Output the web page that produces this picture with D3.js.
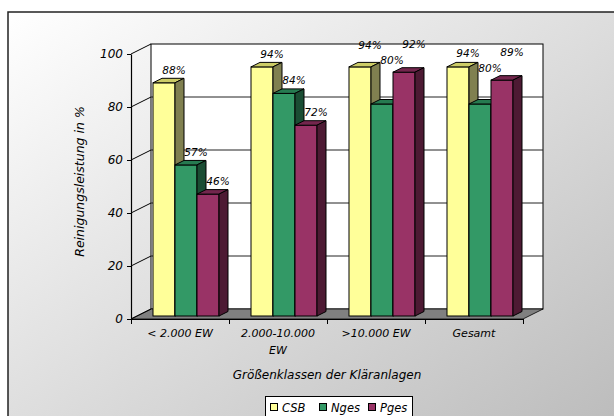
<!DOCTYPE html>
<html lang="de">
<head>
<meta charset="UTF-8">
<title>Reinigungsleistung</title>
<script src="https://d3js.org/d3.v7.min.js"></script>
<style>
    body { margin: 0; background: #fff; }
    svg text { font-family: "DejaVu Sans", Arial, sans-serif; font-style: italic; fill: #000; }
</style>
</head>
<body>
<svg id="chart"></svg>
<script>
    // Daten
    const categories = ["< 2.000 EW", "2.000-10.000 EW", ">10.000 EW", "Gesamt"];
    const seriesNames = ["CSB", "Nges", "Pges"];
    const csb = [88, 94, 94, 94];
    const nges = [57, 84, 80, 80];
    const pges = [46, 72, 92, 89];
    const yTicks = [0, 20, 40, 60, 80, 100];
    const yTitle = "Reinigungsleistung in %";
    const xTitle = "Größenklassen der Kläranlagen";

    const width = 614, height = 416;
    const pLeft = 131, pRight = 523, pTop = 54, pBottom = 319;
    const depthX = 20, depthY = -10;   // Tiefe der 3D-Wand

    const colors = {
        CSB:  { front: "#ffff99", top: "#cccc66", side: "#808050" },
        Nges: { front: "#339966", top: "#267a50", side: "#1a4d33" },
        Pges: { front: "#993366", top: "#73264d", side: "#4d1a33" }
    };

    const values = { CSB: csb, Nges: nges, Pges: pges };
    const rows = [];
    categories.forEach((c, i) => {
        seriesNames.forEach(s => rows.push({ cat: c, series: s, value: values[s][i] }));
    });

    const svg = d3.select("#chart").attr("width", width).attr("height", height);

    // Hintergrund mit Verlauf
    const defs = svg.append("defs");
    const grad = defs.append("linearGradient").attr("id", "bg")
        .attr("x1", 0).attr("y1", 0).attr("x2", 1).attr("y2", 1);
    grad.append("stop").attr("offset", "0%").attr("stop-color", "#ffffff");
    grad.append("stop").attr("offset", "100%").attr("stop-color", "#b8b8b8");

    svg.append("rect")
        .attr("x", 8).attr("y", 12).attr("width", 640).attr("height", 440)
        .attr("fill", "url(#bg)").attr("stroke", "#222").attr("stroke-width", 1.5);

    const x0 = d3.scaleBand().domain(categories).range([pLeft, pRight]);
    const x1 = d3.scaleBand().domain(seriesNames).range([16, 82]);
    const y = d3.scaleLinear().domain([0, 100]).range([pBottom, pTop]);
    const xb = d3.scaleLinear().domain([0, categories.length]).range([pLeft, pRight]);

    const off = t => [depthX * t, depthY * t];

    // Rückwand
    svg.append("rect")
        .attr("x", pLeft + depthX).attr("y", y(100) + depthY)
        .attr("width", pRight - pLeft).attr("height", y(0) - y(100))
        .attr("fill", "#fff").attr("stroke", "#000").attr("stroke-width", 1);

    // Gitterlinien auf der Rückwand
    svg.append("g").selectAll("line")
        .data(yTicks.filter(v => v > 0 && v < 100))
        .join("line")
        .attr("x1", pLeft + depthX).attr("x2", pRight + depthX)
        .attr("y1", d => y(d) + depthY).attr("y2", d => y(d) + depthY)
        .attr("stroke", "#222").attr("stroke-width", 1);

    // Boden
    svg.append("polygon")
        .attr("points", [
            [pLeft, y(0)], [pRight, y(0)],
            [pRight + depthX, y(0) + depthY], [pLeft + depthX, y(0) + depthY]
        ].map(p => p.join(",")).join(" "))
        .attr("fill", "#808080").attr("stroke", "#000").attr("stroke-width", 0.8);

    // schräge Linien der Seitenwand
    svg.append("g").selectAll("line")
        .data(yTicks)
        .join("line")
        .attr("x1", pLeft).attr("x2", pLeft + depthX)
        .attr("y1", d => y(d)).attr("y2", d => y(d) + depthY)
        .attr("stroke", "#000").attr("stroke-width", 1);

    // Achsen
    const yAxis = svg.append("g")
        .attr("transform", `translate(${pLeft},0)`)
        .call(d3.axisLeft(y).tickValues(yTicks).tickSize(4).tickPadding(4).tickSizeOuter(0));
    yAxis.selectAll("text").attr("font-size", 12);

    svg.append("g")
        .attr("transform", `translate(0,${pBottom})`)
        .call(d3.axisBottom(xb).tickValues(d3.range(categories.length + 1)).tickFormat("").tickSize(5).tickSizeOuter(0));
    svg.selectAll(".domain").attr("stroke", "#000").attr("stroke-width", 1.2);
    svg.selectAll(".tick line").attr("stroke", "#000");
    svg.selectAll("g[font-family]").attr("font-family", null);

    // Balken (3D)
    const f0 = off(0.3), f1 = off(0.75);
    const dx = f1[0] - f0[0], dy = f1[1] - f0[1];
    rows.forEach(d => {
        d.xl = x0(d.cat) + x1(d.series) + f0[0];
        d.xr = d.xl + x1.bandwidth();
        d.yt = y(d.value) + f0[1];
        d.yb = y(0) + f0[1];
    });

    const bars = svg.append("g").selectAll("g.bar")
        .data(rows)
        .join("g").attr("class", "bar");

    bars.each(function (d) {
        const g = d3.select(this);
        const c = colors[d.series];
        g.append("rect")
            .attr("x", d.xl).attr("y", d.yt).attr("width", d.xr - d.xl).attr("height", d.yb - d.yt)
            .attr("fill", c.front).attr("stroke", "#000").attr("stroke-width", 1);
        g.append("polygon")
            .attr("points", [[d.xl, d.yt], [d.xr, d.yt], [d.xr + dx, d.yt + dy], [d.xl + dx, d.yt + dy]].map(p => p.join(",")).join(" "))
            .attr("fill", c.top).attr("stroke", "#000").attr("stroke-width", 1);
        g.append("polygon")
            .attr("points", [[d.xr, d.yt], [d.xr + dx, d.yt + dy], [d.xr + dx, d.yb + dy], [d.xr, d.yb]].map(p => p.join(",")).join(" "))
            .attr("fill", c.side).attr("stroke", "#000").attr("stroke-width", 1);
    });

    // Datenbeschriftungen (einfaches Ausweichen bei Überlappung)
    const labels = svg.append("g").selectAll("text")
        .data(rows)
        .join("text")
        .attr("x", d => (d.xl + d.xr) / 2 + 10)
        .attr("text-anchor", "middle")
        .attr("font-size", 10.5)
        .text(d => d.value + "%");

    const barBoxes = rows.map(d => ({ x0: d.xl, x1: d.xr + dx, y0: d.yt + dy, y1: d.yb }));
    const placed = [];
    const hit = (a, b) => a.x0 < b.x1 && a.x1 > b.x0 && a.y0 < b.y1 && a.y1 > b.y0;
    const order = [1, 2, 0];   // Nges, Pges, CSB
    const half = 7.5;
    categories.forEach(c => {
        order.forEach(si => {
            const d = rows.find(r => r.cat === c && r.series === seriesNames[si]);
            const node = labels.filter(r => r === d);
            const w = node.node().getComputedTextLength();
            const cx = (d.xl + d.xr) / 2 + 10;
            let cy = d.yt - 13;
            for (let k = 0; k < 120; k++) {
                const box = { x0: cx - w / 2, x1: cx + w / 2, y0: cy - half, y1: cy + half };
                if (!barBoxes.some(b => hit(box, b)) && !placed.some(b => hit(box, b))) {
                    placed.push(box);
                    break;
                }
                cy -= 1;
            }
            node.attr("y", cy + 4);
        });
    });

    // Kategorienbeschriftung mit Umbruch
    const catLabels = svg.append("g").selectAll("text")
        .data(categories)
        .join("text")
        .attr("x", d => x0(d) + x0.bandwidth() / 2)
        .attr("y", pBottom + 18)
        .attr("text-anchor", "middle")
        .attr("font-size", 11);
    catLabels.each(function (d) {
        const t = d3.select(this);
        const cx = x0(d) + x0.bandwidth() / 2;
        const words = d.split(" ");
        let line = [];
        let tspan = t.append("tspan").attr("x", cx);
        words.forEach(w => {
            line.push(w);
            tspan.text(line.join(" "));
            if (tspan.node().getComputedTextLength() > 85 && line.length > 1) {
                line.pop();
                tspan.text(line.join(" "));
                line = [w];
                tspan = t.append("tspan").attr("x", cx).attr("dy", 16.5).text(w);
            }
        });
    });

    // Achsentitel
    svg.append("text")
        .attr("transform", `translate(84,${(pTop + pBottom) / 2 - 5}) rotate(-90)`)
        .attr("text-anchor", "middle")
        .attr("font-size", 12.5)
        .text(yTitle);

    svg.append("text")
        .attr("x", 327).attr("y", 379)
        .attr("text-anchor", "middle")
        .attr("font-size", 12)
        .text(xTitle);

    // Legende
    const legend = svg.append("g");
    legend.append("rect")
        .attr("x", 265.5).attr("y", 396.5).attr("width", 147).attr("height", 30)
        .attr("fill", "#fff").attr("stroke", "#000").attr("stroke-width", 1);
    const lx = d3.scalePoint().domain(seriesNames).range([270, 368]);
    const items = legend.selectAll("g").data(seriesNames).join("g")
        .attr("transform", d => `translate(${lx(d)},0)`);
    items.append("rect")
        .attr("x", 0.5).attr("y", 403.5).attr("width", 7).attr("height", 7)
        .attr("fill", d => colors[d].front).attr("stroke", "#000").attr("stroke-width", 1);
    items.append("text")
        .attr("x", 12).attr("y", 411.5)
        .attr("font-size", 11.5)
        .text(d => d);
</script>
</body>
</html>
